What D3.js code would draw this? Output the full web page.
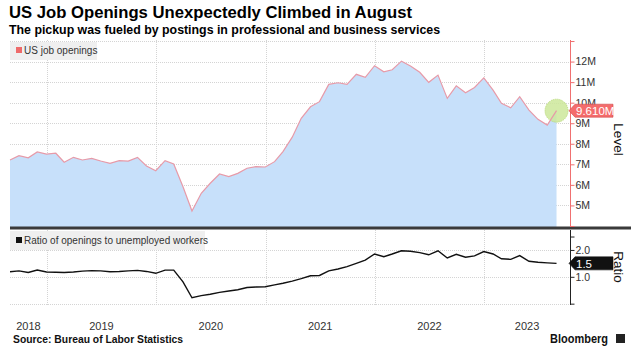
<!DOCTYPE html>
<html><head><meta charset="utf-8">
<script src="https://cdn.jsdelivr.net/npm/d3@7"></script>
<style>
html,body{margin:0;padding:0;background:#fff;}
svg{display:block;font-family:"Liberation Sans",Arial,sans-serif;}
</style></head>
<body><svg id="c" width="631" height="349"></svg>
<script>
// ---- data ----
const firstMonth = "2018-08";
const lastMonth = "2023-08";
const openings = [7.21,7.42,7.32,7.60,7.50,7.54,7.10,7.34,7.21,7.29,7.16,7.05,7.18,7.16,7.34,6.92,6.69,
  7.18,7.02,5.91,4.73,5.59,6.08,6.53,6.40,6.56,6.81,6.89,6.87,
  7.13,7.62,8.32,9.24,9.80,10.05,10.89,10.97,10.89,11.38,11.23,11.80,
  11.50,11.60,12.02,11.78,11.48,10.99,11.34,10.21,10.82,10.48,10.74,11.21,
  10.61,9.97,9.75,10.29,9.64,9.19,8.91,9.61];
const ratio = [1.19,1.22,1.16,1.25,1.18,1.17,1.16,1.18,1.21,1.23,1.22,1.19,1.20,1.22,1.24,1.20,1.13,
  1.25,1.25,0.81,0.22,0.30,0.35,0.42,0.47,0.52,0.60,0.62,0.63,
  0.70,0.76,0.84,0.93,1.04,1.05,1.22,1.29,1.38,1.50,1.62,1.85,
  1.75,1.85,1.97,1.95,1.90,1.82,1.97,1.70,1.84,1.73,1.78,1.94,
  1.85,1.67,1.65,1.79,1.58,1.54,1.52,1.50];
const levelTicks = [5,6,7,8,9,10,11,12];
const levelTickLabels = ["5M","6M","7M","8M","9M","10M","11M","12M"];
const ratioTicks = [1.0,2.0];
const ratioTickLabels = ["1.0","2.0"];
const years = [2018,2019,2020,2021,2022,2023];
const lastLevelLabel = "9.610M";
const lastRatioLabel = "1.5";

// ---- setup ----
const svg = d3.select("#c");
const parse = d3.utcParse("%Y-%m");
const months = d3.utcMonth.range(parse(firstMonth), d3.utcMonth.offset(parse(lastMonth),1));
const dates = months.map(m => d3.utcDay.offset(d3.utcMonth.offset(m,1),-1)); // month-end
const L = 10, R = 570;
const x = d3.scaleUtc().domain([new Date(Date.UTC(2018,7,31)), new Date(Date.UTC(2023,9,15))]).range([L,R]);
const top1 = 40, bot1 = 227, top2 = 229, bot2 = 305;
const y1 = d3.scaleLinear().domain([3.95,13.05]).range([bot1,top1]);
const y2 = d3.scaleLinear().domain([-0.05,2.78]).range([bot2,top2]);

// titles
svg.append("text").attr("x",9).attr("y",18).attr("font-size",16).attr("font-weight","bold")
  .attr("fill","#000").attr("textLength",403).attr("lengthAdjust","spacingAndGlyphs")
  .text("US Job Openings Unexpectedly Climbed in August");
svg.append("text").attr("x",9).attr("y",34).attr("font-size",12).attr("font-weight","bold")
  .attr("fill","#000").attr("textLength",431).attr("lengthAdjust","spacingAndGlyphs")
  .text("The pickup was fueled by postings in professional and business services");

// gridlines
const grid = svg.append("g").attr("stroke","#d4d4d4").attr("stroke-dasharray","1,1").attr("stroke-width",1);
[...levelTicks,13].forEach(v => grid.append("line").attr("x1",L).attr("x2",R)
  .attr("y1",Math.round(y1(v))+0.5).attr("y2",Math.round(y1(v))+0.5));
[0,1,2].forEach(v => grid.append("line").attr("x1",L).attr("x2",R)
  .attr("y1",Math.round(y2(v))+0.5).attr("y2",Math.round(y2(v))+0.5));
years.slice(1).forEach(yr => {
  const xx = Math.round(x(new Date(Date.UTC(yr,0,1))))+0.5;
  grid.append("line").attr("x1",xx).attr("x2",xx).attr("y1",top1).attr("y2",bot2);
});

// area + lines
const area = d3.area().x((d,i)=>x(dates[i])).y0(bot1).y1(d=>y1(d));
svg.append("path").datum(openings).attr("d",area).attr("fill","#c7e0fa");

// last-point marker (behind line)
const lx = x(dates[dates.length-1]), ly = y1(openings[openings.length-1]);
svg.append("circle").attr("cx",lx).attr("cy",ly).attr("r",11.5).attr("fill","#cde89a").attr("fill-opacity",0.85)
  .attr("stroke","#b7da75").attr("stroke-dasharray","1,1");

svg.append("path").datum(openings).attr("d",d3.line().x((d,i)=>x(dates[i])).y(d=>y1(d)))
  .attr("fill","none").attr("stroke","#e79aa8").attr("stroke-width",1.2);
svg.append("path").datum(ratio).attr("d",d3.line().x((d,i)=>x(dates[i])).y(d=>y2(d)))
  .attr("fill","none").attr("stroke","#111").attr("stroke-width",1.4);

// legends
svg.append("rect").attr("x",10).attr("y",42).attr("width",87).attr("height",18).attr("fill","#efefef");
svg.append("rect").attr("x",16).attr("y",47).attr("width",6).attr("height",6).attr("fill","#ee6a6a");
svg.append("text").attr("x",24).attr("y",54).attr("font-size",10).attr("fill","#333").text("US job openings");
svg.append("rect").attr("x",10).attr("y",231).attr("width",195).attr("height",19).attr("fill","#efefef");
svg.append("rect").attr("x",16).attr("y",237).attr("width",6).attr("height",6).attr("fill","#111");
svg.append("text").attr("x",24).attr("y",244).attr("font-size",10).attr("fill","#333").text("Ratio of openings to unemployed workers");

// separator
svg.append("line").attr("x1",L).attr("x2",631).attr("y1",228).attr("y2",228).attr("stroke","#3a3a3a").attr("stroke-width",3);

// right axes
const ax1 = svg.append("g").attr("transform",`translate(${R+0.5},0)`)
  .call(d3.axisRight(y1).tickValues([4,...levelTicks,13]).tickSize(4).tickFormat((d)=>{const k=levelTicks.indexOf(d);return k<0?"":levelTickLabels[k];}));
ax1.select(".domain").attr("stroke","#f07070").attr("d",`M0,${top1}V${bot1}`);
ax1.selectAll(".tick line").attr("stroke","#f07070");
ax1.selectAll(".tick text").attr("font-size",10.5).attr("fill","#333").attr("font-family","Liberation Sans, Arial").attr("x",5);
const ax2 = svg.append("g").attr("transform",`translate(${R+0.5},0)`)
  .call(d3.axisRight(y2).tickValues([0,...ratioTicks,1.5,2.5]).tickSize(4).tickFormat((d)=>{const k=ratioTicks.indexOf(d);return k<0?"":ratioTickLabels[k];}));
ax2.select(".domain").attr("stroke","#222").attr("d",`M0,${top2+1}V${bot2}`);
ax2.selectAll(".tick line").attr("stroke","#222");
ax2.selectAll(".tick text").attr("font-size",10.5).attr("fill","#333").attr("font-family","Liberation Sans, Arial").attr("x",5);

// axis titles
svg.append("text").attr("transform",`translate(614,${(top1+bot1)/2+6}) rotate(90)`).attr("text-anchor","middle")
  .attr("font-size",13.5).attr("fill","#111").text("Level");
svg.append("text").attr("transform",`translate(614,${(top2+bot2)/2}) rotate(90)`).attr("text-anchor","middle")
  .attr("font-size",13.5).attr("fill","#111").text("Ratio");

// value labels
function valueLabel(yv, txt, bg, fg, stroke){
  const g = svg.append("g");
  g.append("path").attr("d",`M${R-1},${yv} L${R+5},${yv-6.5} L${R+43},${yv-6.5} L${R+43},${yv+6.5} L${R+5},${yv+6.5} Z`)
    .attr("fill",bg).attr("stroke",stroke).attr("stroke-width",0.6);
  g.append("text").attr("x",R+6).attr("y",yv+4.5).attr("font-size",11.5).attr("fill",fg).text(txt);
}
valueLabel(y1(openings[openings.length-1]), lastLevelLabel, "#f46c6c", "#fff", "#d04848");
valueLabel(y2(ratio[ratio.length-1]), lastRatioLabel, "#111", "#fff", "#111");

// x labels centered in visible part of each year
years.forEach(yr => {
  const a = Math.max(L, x(new Date(Date.UTC(yr,0,1))));
  const b = Math.min(R, x(new Date(Date.UTC(yr+1,0,1))));
  svg.append("text").attr("x",(a+b)/2).attr("y",330).attr("text-anchor","middle")
    .attr("font-size",11).attr("fill","#333").text(String(yr));
});

// footer
svg.append("text").attr("x",13).attr("y",343).attr("font-size",10).attr("font-weight","bold")
  .attr("fill","#111").attr("textLength",170).attr("lengthAdjust","spacingAndGlyphs").text("Source: Bureau of Labor Statistics");
svg.append("text").attr("x",550).attr("y",343).attr("font-size",13).attr("font-weight","bold")
  .attr("fill","#111").attr("textLength",58).attr("lengthAdjust","spacingAndGlyphs").text("Bloomberg");
svg.append("rect").attr("x",616).attr("y",334).attr("width",9).attr("height",9).attr("fill","#222");
</script></body></html>
